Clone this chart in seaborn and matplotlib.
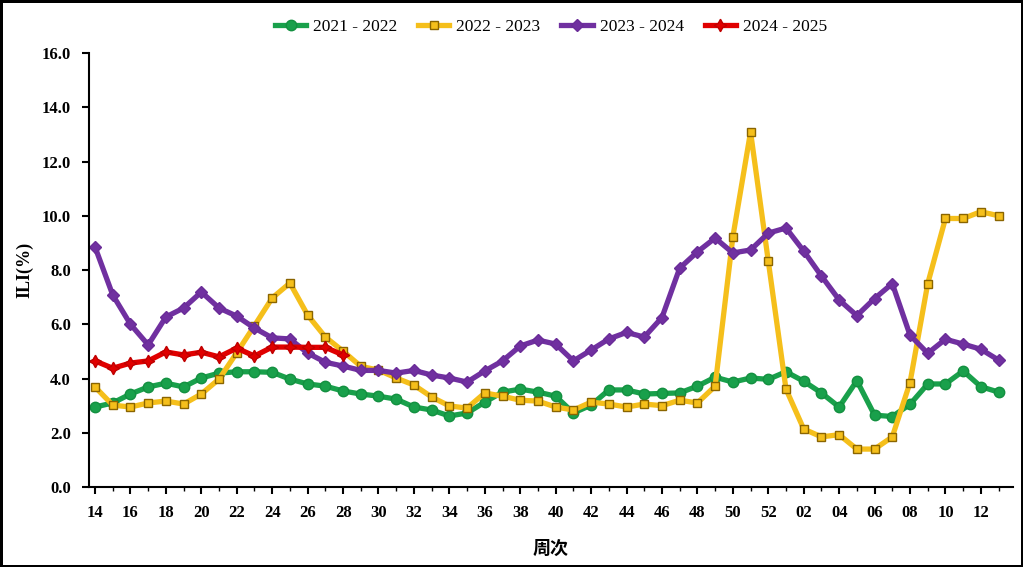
import numpy as np
import pandas as pd
import seaborn as sns
import matplotlib.pyplot as plt
from matplotlib.ticker import MultipleLocator, FormatStrFormatter

# week labels: 14..52 then 01..13
weeks = [f"{w:02d}" for w in list(range(14, 53)) + list(range(1, 14))]

ili_2122 = [2.95, 3.1, 3.43, 3.69, 3.83, 3.69, 4.02, 4.2, 4.25, 4.25, 4.23, 3.98, 3.8,
            3.72, 3.54, 3.43, 3.35, 3.24, 2.95, 2.84, 2.62, 2.73, 3.13, 3.5, 3.61, 3.5,
            3.35, 2.73, 3.02, 3.58, 3.58, 3.43, 3.45, 3.47, 3.72, 4.05, 3.87, 4.02, 3.97,
            4.25, 3.9, 3.47, 2.95, 3.92, 2.65, 2.6, 3.05, 3.8, 3.8, 4.28, 3.7, 3.5]
ili_2223 = [3.69, 3.02, 2.95, 3.1, 3.17, 3.06, 3.43, 3.98, 4.95, 5.95, 6.97, 7.52, 6.34,
            5.53, 5.01, 4.45, 4.31, 4.02, 3.76, 3.32, 2.99, 2.91, 3.47, 3.35, 3.2, 3.17,
            2.95, 2.84, 3.13, 3.06, 2.95, 3.06, 3.0, 3.2, 3.1, 3.72, 9.22, 13.09, 8.33,
            3.61, 2.14, 1.85, 1.93, 1.4, 1.4, 1.85, 3.85, 7.5, 9.9, 9.9, 10.15, 10.0]
ili_2324 = [8.85, 7.08, 6.0, 5.24, 6.27, 6.6, 7.19, 6.6, 6.3, 5.86, 5.5, 5.46, 4.94,
            4.6, 4.46, 4.3, 4.3, 4.2, 4.3, 4.13, 4.02, 3.87, 4.28, 4.65, 5.2, 5.42,
            5.27, 4.65, 5.05, 5.46, 5.7, 5.53, 6.25, 8.07, 8.67, 9.18, 8.63, 8.74, 9.36,
            9.55, 8.7, 7.78, 6.9, 6.32, 6.95, 7.5, 5.6, 4.93, 5.45, 5.27, 5.08, 4.68]
ili_2425 = [4.65, 4.38, 4.57, 4.65, 4.98, 4.87, 4.97, 4.8, 5.12, 4.83, 5.16, 5.16, 5.15,
            5.15, 4.87]

plt.rcParams['font.family'] = ['Liberation Serif', 'Noto Sans CJK SC']

fig = plt.figure(figsize=(10.23, 5.67), dpi=100)
ax = fig.add_axes([0.087, 0.141, 0.903, 0.7655])

styles = [
    ("2021 - 2022", ili_2122, "#19a04b", "o", 7.5, "#139040"),
    ("2022 - 2023", ili_2223, "#f5bf1b", "s", 5.5, "#8a6500"),
    ("2023 - 2024", ili_2324, "#7030a0", "D", 6, "#6a2c98"),
    ("2024 - 2025", ili_2425, "#e00000", (4, 1, 0), 9, "#c00000"),
]
for name, vals, col, mk, ms, ec in styles:
    df = pd.DataFrame({"x": np.arange(len(vals)), "y": vals})
    sns.lineplot(data=df, x="x", y="y", ax=ax, color=col, lw=3.8, marker=mk,
                 markersize=ms, markeredgecolor=ec, markeredgewidth=1.0,
                 label=name)

ax.set_xlim(-0.34, 51.8)
ax.set_ylim(0, 16)
ax.yaxis.set_major_locator(MultipleLocator(2))
ax.yaxis.set_major_formatter(FormatStrFormatter("%.1f"))
ax.set_xticks(np.arange(0, 52, 2))
ax.set_xticklabels(weeks[::2])
ax.set_xticks(np.arange(0, 52, 1), minor=True)
ax.tick_params(axis="both", which="major", length=5, width=1.5, labelsize=12, pad=8)
ax.tick_params(axis="x", which="minor", length=3, width=1)
for lab in ax.get_xticklabels() + ax.get_yticklabels():
    lab.set_fontweight("bold")
for s in ["top", "right"]:
    ax.spines[s].set_visible(False)
for s in ["left", "bottom"]:
    ax.spines[s].set_linewidth(1.5)

ax.set_ylabel("ILI(%)", fontsize=13, fontweight="bold", labelpad=6)
ax.set_xlabel("周次", fontsize=13, fontweight="bold", labelpad=14)

ax.legend(loc="center", bbox_to_anchor=(0.5, 1.06), ncol=4, frameon=False,
          fontsize=12.5, handlelength=1.8, columnspacing=1.2, handletextpad=0.4)

fig.patch.set_edgecolor("black")
fig.patch.set_linewidth(2.5)

fig.savefig("out.png", dpi=100, edgecolor=fig.get_edgecolor())
